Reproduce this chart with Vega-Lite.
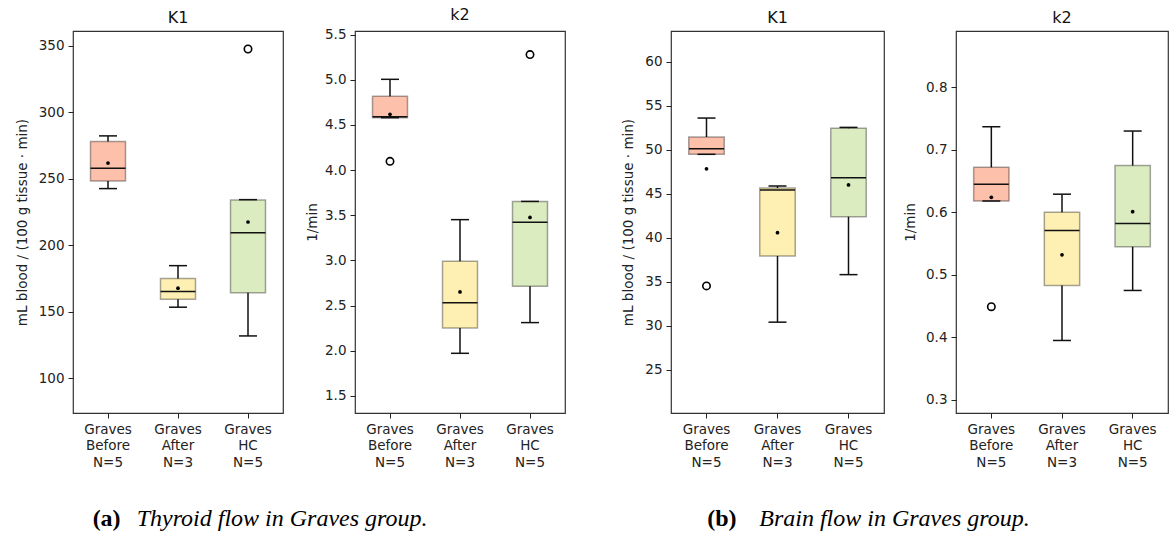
{
  "$schema": "https://vega.github.io/schema/vega-lite/v6.json",
  "autosize": "pad",
  "padding": {"left": 14, "top": 6, "right": 0, "bottom": 0},
  "background": "white",
  "datasets": {
    "boxes": [
      {"panel": "thyK1", "group": "Graves Before N=5", "lo": 242.6, "q1": 248.3, "med": 257.9, "q3": 277.9, "hi": 282.2, "mean": 261.8},
      {"panel": "thyK1", "group": "Graves After N=3", "lo": 153.5, "q1": 159.4, "med": 165.2, "q3": 175.0, "hi": 184.7, "mean": 167.8},
      {"panel": "thyK1", "group": "Graves HC N=5", "lo": 131.9, "q1": 164.4, "med": 209.4, "q3": 234.1, "hi": 234.3, "mean": 217.5},
      {"panel": "thyk2", "group": "Graves Before N=5", "lo": 4.58, "q1": 4.58, "med": 4.59, "q3": 4.817, "hi": 5.005, "mean": 4.618},
      {"panel": "thyk2", "group": "Graves After N=3", "lo": 1.971, "q1": 2.251, "med": 2.532, "q3": 2.991, "hi": 3.451, "mean": 2.651},
      {"panel": "thyk2", "group": "Graves HC N=5", "lo": 2.311, "q1": 2.713, "med": 3.421, "q3": 3.651, "hi": 3.653, "mean": 3.475},
      {"panel": "brK1", "group": "Graves Before N=5", "lo": 49.49, "q1": 49.49, "med": 50.13, "q3": 51.45, "hi": 53.61, "mean": 47.84},
      {"panel": "brK1", "group": "Graves After N=3", "lo": 30.42, "q1": 37.93, "med": 45.44, "q3": 45.67, "hi": 45.89, "mean": 40.58},
      {"panel": "brK1", "group": "Graves HC N=5", "lo": 35.82, "q1": 42.41, "med": 46.83, "q3": 52.44, "hi": 52.55, "mean": 46.01},
      {"panel": "brk2", "group": "Graves Before N=5", "lo": 0.618, "q1": 0.618, "med": 0.645, "q3": 0.672, "hi": 0.737, "mean": 0.624},
      {"panel": "brk2", "group": "Graves After N=3", "lo": 0.395, "q1": 0.483, "med": 0.571, "q3": 0.600, "hi": 0.629, "mean": 0.532},
      {"panel": "brk2", "group": "Graves HC N=5", "lo": 0.475, "q1": 0.545, "med": 0.582, "q3": 0.675, "hi": 0.730, "mean": 0.601}
    ],
    "outliers": [
      {"panel": "thyK1", "group": "Graves HC N=5", "value": 347.5},
      {"panel": "thyk2", "group": "Graves Before N=5", "value": 4.097},
      {"panel": "thyk2", "group": "Graves HC N=5", "value": 5.279},
      {"panel": "brK1", "group": "Graves Before N=5", "value": 34.54},
      {"panel": "brk2", "group": "Graves Before N=5", "value": 0.449}
    ]
  },
  "spacing": 55,
  "hconcat": [
    {
      "title": {"text": "(a)", "orient": "bottom", "anchor": "start", "font": "Liberation Serif", "fontSize": 24, "fontWeight": "bold", "fontStyle": "normal", "color": "#000", "dx": 78, "dy": -24, "offset": 0},
      "vconcat": [
        {
          "title": {"text": "Thyroid flow in Graves group.", "orient": "bottom", "anchor": "start", "font": "Liberation Serif", "fontSize": 24, "fontWeight": "normal", "fontStyle": "italic", "color": "#000", "dx": 122, "offset": 38},
          "bounds": "flush",
          "spacing": 72,
          "hconcat": [
            {
              "width": 210, "height": 382,
              "title": "K1",
              "encoding": {"x": {"field": "group", "type": "nominal", "sort": ["Graves Before N=5", "Graves After N=3", "Graves HC N=5"], "scale": {"paddingInner": 0, "paddingOuter": 0}, "axis": {"title": null, "labelAngle": 0, "labelExpr": "split(datum.label, ' ')"}}},
              "layer": [
                {"data": {"name": "boxes"}, "transform": [{"filter": "datum.panel === 'thyK1'"}], "mark": {"type": "rule", "color": "#111", "strokeWidth": 1.5}, "encoding": {"y": {"field": "lo", "type": "quantitative", "scale": {"domain": [74, 361], "nice": false, "zero": false}, "axis": {"title": "mL blood / (100 g tissue · min)", "values": [100, 150, 200, 250, 300, 350], "titlePadding": 9}}, "y2": {"field": "hi"}}},
                {"data": {"name": "boxes"}, "transform": [{"filter": "datum.panel === 'thyK1'"}], "mark": {"type": "bar", "width": {"band": 0.5}, "stroke": "#000", "strokeOpacity": 0.35, "strokeWidth": 1.5, "opacity": 1}, "encoding": {"y": {"field": "q1", "type": "quantitative"}, "y2": {"field": "q3"}, "color": {"field": "group", "type": "nominal", "scale": {"domain": ["Graves Before N=5", "Graves After N=3", "Graves HC N=5"], "range": ["#fdc0ab", "#fef0b2", "#dcecc1"]}, "legend": null}}},
                {"data": {"name": "boxes"}, "transform": [{"filter": "datum.panel === 'thyK1'"}], "mark": {"type": "tick", "color": "#111", "thickness": 1.5, "size": 18, "opacity": 1}, "encoding": {"y": {"field": "lo", "type": "quantitative"}}},
                {"data": {"name": "boxes"}, "transform": [{"filter": "datum.panel === 'thyK1'"}], "mark": {"type": "tick", "color": "#111", "thickness": 1.5, "size": 18, "opacity": 1}, "encoding": {"y": {"field": "hi", "type": "quantitative"}}},
                {"data": {"name": "boxes"}, "transform": [{"filter": "datum.panel === 'thyK1'"}], "mark": {"type": "tick", "color": "#111", "thickness": 1.5, "size": 35, "opacity": 1}, "encoding": {"y": {"field": "med", "type": "quantitative"}}},
                {"data": {"name": "boxes"}, "transform": [{"filter": "datum.panel === 'thyK1'"}], "mark": {"type": "point", "shape": "circle", "filled": true, "color": "#000", "size": 14, "opacity": 1}, "encoding": {"y": {"field": "mean", "type": "quantitative"}}},
                {"data": {"name": "outliers"}, "transform": [{"filter": "datum.panel === 'thyK1'"}], "mark": {"type": "point", "shape": "circle", "filled": false, "color": "#000", "size": 55, "strokeWidth": 1.6, "opacity": 1}, "encoding": {"y": {"field": "value", "type": "quantitative"}}}
              ]
            },
            {
              "width": 210, "height": 382,
              "title": "k2",
              "encoding": {"x": {"field": "group", "type": "nominal", "sort": ["Graves Before N=5", "Graves After N=3", "Graves HC N=5"], "scale": {"paddingInner": 0, "paddingOuter": 0}, "axis": {"title": null, "labelAngle": 0, "labelExpr": "split(datum.label, ' ')"}}},
              "layer": [
                {"data": {"name": "boxes"}, "transform": [{"filter": "datum.panel === 'thyk2'"}], "mark": {"type": "rule", "color": "#111", "strokeWidth": 1.5}, "encoding": {"y": {"field": "lo", "type": "quantitative", "scale": {"domain": [1.31, 5.54], "nice": false, "zero": false}, "axis": {"title": "1/min", "values": [1.5, 2.0, 2.5, 3.0, 3.5, 4.0, 4.5, 5.0, 5.5], "format": ".1f", "titlePadding": 5}}, "y2": {"field": "hi"}}},
                {"data": {"name": "boxes"}, "transform": [{"filter": "datum.panel === 'thyk2'"}], "mark": {"type": "bar", "width": {"band": 0.5}, "stroke": "#000", "strokeOpacity": 0.35, "strokeWidth": 1.5, "opacity": 1}, "encoding": {"y": {"field": "q1", "type": "quantitative"}, "y2": {"field": "q3"}, "color": {"field": "group", "type": "nominal", "scale": {"domain": ["Graves Before N=5", "Graves After N=3", "Graves HC N=5"], "range": ["#fdc0ab", "#fef0b2", "#dcecc1"]}, "legend": null}}},
                {"data": {"name": "boxes"}, "transform": [{"filter": "datum.panel === 'thyk2'"}], "mark": {"type": "tick", "color": "#111", "thickness": 1.5, "size": 18, "opacity": 1}, "encoding": {"y": {"field": "lo", "type": "quantitative"}}},
                {"data": {"name": "boxes"}, "transform": [{"filter": "datum.panel === 'thyk2'"}], "mark": {"type": "tick", "color": "#111", "thickness": 1.5, "size": 18, "opacity": 1}, "encoding": {"y": {"field": "hi", "type": "quantitative"}}},
                {"data": {"name": "boxes"}, "transform": [{"filter": "datum.panel === 'thyk2'"}], "mark": {"type": "tick", "color": "#111", "thickness": 1.5, "size": 35, "opacity": 1}, "encoding": {"y": {"field": "med", "type": "quantitative"}}},
                {"data": {"name": "boxes"}, "transform": [{"filter": "datum.panel === 'thyk2'"}], "mark": {"type": "point", "shape": "circle", "filled": true, "color": "#000", "size": 14, "opacity": 1}, "encoding": {"y": {"field": "mean", "type": "quantitative"}}},
                {"data": {"name": "outliers"}, "transform": [{"filter": "datum.panel === 'thyk2'"}], "mark": {"type": "point", "shape": "circle", "filled": false, "color": "#000", "size": 55, "strokeWidth": 1.6, "opacity": 1}, "encoding": {"y": {"field": "value", "type": "quantitative"}}}
              ]
            }
          ]
        }
      ]
    },
    {
      "title": {"text": "(b)", "orient": "bottom", "anchor": "start", "font": "Liberation Serif", "fontSize": 24, "fontWeight": "bold", "fontStyle": "normal", "color": "#000", "dx": 86, "dy": -24, "offset": 0},
      "vconcat": [
        {
          "title": {"text": "Brain flow in Graves group.", "orient": "bottom", "anchor": "start", "font": "Liberation Serif", "fontSize": 24, "fontWeight": "normal", "fontStyle": "italic", "color": "#000", "dx": 138, "offset": 38},
          "bounds": "flush",
          "spacing": 72,
          "hconcat": [
            {
              "width": 213, "height": 382,
              "title": "K1",
              "encoding": {"x": {"field": "group", "type": "nominal", "sort": ["Graves Before N=5", "Graves After N=3", "Graves HC N=5"], "scale": {"paddingInner": 0, "paddingOuter": 0}, "axis": {"title": null, "labelAngle": 0, "labelExpr": "split(datum.label, ' ')"}}},
              "layer": [
                {"data": {"name": "boxes"}, "transform": [{"filter": "datum.panel === 'brK1'"}], "mark": {"type": "rule", "color": "#111", "strokeWidth": 1.5}, "encoding": {"y": {"field": "lo", "type": "quantitative", "scale": {"domain": [20.1, 63.5], "nice": false, "zero": false}, "axis": {"title": "mL blood / (100 g tissue · min)", "values": [25, 30, 35, 40, 45, 50, 55, 60], "titlePadding": 9}}, "y2": {"field": "hi"}}},
                {"data": {"name": "boxes"}, "transform": [{"filter": "datum.panel === 'brK1'"}], "mark": {"type": "bar", "width": {"band": 0.5}, "stroke": "#000", "strokeOpacity": 0.35, "strokeWidth": 1.5, "opacity": 1}, "encoding": {"y": {"field": "q1", "type": "quantitative"}, "y2": {"field": "q3"}, "color": {"field": "group", "type": "nominal", "scale": {"domain": ["Graves Before N=5", "Graves After N=3", "Graves HC N=5"], "range": ["#fdc0ab", "#fef0b2", "#dcecc1"]}, "legend": null}}},
                {"data": {"name": "boxes"}, "transform": [{"filter": "datum.panel === 'brK1'"}], "mark": {"type": "tick", "color": "#111", "thickness": 1.5, "size": 18, "opacity": 1}, "encoding": {"y": {"field": "lo", "type": "quantitative"}}},
                {"data": {"name": "boxes"}, "transform": [{"filter": "datum.panel === 'brK1'"}], "mark": {"type": "tick", "color": "#111", "thickness": 1.5, "size": 18, "opacity": 1}, "encoding": {"y": {"field": "hi", "type": "quantitative"}}},
                {"data": {"name": "boxes"}, "transform": [{"filter": "datum.panel === 'brK1'"}], "mark": {"type": "tick", "color": "#111", "thickness": 1.5, "size": 35, "opacity": 1}, "encoding": {"y": {"field": "med", "type": "quantitative"}}},
                {"data": {"name": "boxes"}, "transform": [{"filter": "datum.panel === 'brK1'"}], "mark": {"type": "point", "shape": "circle", "filled": true, "color": "#000", "size": 14, "opacity": 1}, "encoding": {"y": {"field": "mean", "type": "quantitative"}}},
                {"data": {"name": "outliers"}, "transform": [{"filter": "datum.panel === 'brK1'"}], "mark": {"type": "point", "shape": "circle", "filled": false, "color": "#000", "size": 55, "strokeWidth": 1.6, "opacity": 1}, "encoding": {"y": {"field": "value", "type": "quantitative"}}}
              ]
            },
            {
              "width": 212, "height": 382,
              "title": "k2",
              "encoding": {"x": {"field": "group", "type": "nominal", "sort": ["Graves Before N=5", "Graves After N=3", "Graves HC N=5"], "scale": {"paddingInner": 0, "paddingOuter": 0}, "axis": {"title": null, "labelAngle": 0, "labelExpr": "split(datum.label, ' ')"}}},
              "layer": [
                {"data": {"name": "boxes"}, "transform": [{"filter": "datum.panel === 'brk2'"}], "mark": {"type": "rule", "color": "#111", "strokeWidth": 1.5}, "encoding": {"y": {"field": "lo", "type": "quantitative", "scale": {"domain": [0.279, 0.89], "nice": false, "zero": false}, "axis": {"title": "1/min", "values": [0.3, 0.4, 0.5, 0.6, 0.7, 0.8], "format": ".1f", "titlePadding": 8}}, "y2": {"field": "hi"}}},
                {"data": {"name": "boxes"}, "transform": [{"filter": "datum.panel === 'brk2'"}], "mark": {"type": "bar", "width": {"band": 0.5}, "stroke": "#000", "strokeOpacity": 0.35, "strokeWidth": 1.5, "opacity": 1}, "encoding": {"y": {"field": "q1", "type": "quantitative"}, "y2": {"field": "q3"}, "color": {"field": "group", "type": "nominal", "scale": {"domain": ["Graves Before N=5", "Graves After N=3", "Graves HC N=5"], "range": ["#fdc0ab", "#fef0b2", "#dcecc1"]}, "legend": null}}},
                {"data": {"name": "boxes"}, "transform": [{"filter": "datum.panel === 'brk2'"}], "mark": {"type": "tick", "color": "#111", "thickness": 1.5, "size": 18, "opacity": 1}, "encoding": {"y": {"field": "lo", "type": "quantitative"}}},
                {"data": {"name": "boxes"}, "transform": [{"filter": "datum.panel === 'brk2'"}], "mark": {"type": "tick", "color": "#111", "thickness": 1.5, "size": 18, "opacity": 1}, "encoding": {"y": {"field": "hi", "type": "quantitative"}}},
                {"data": {"name": "boxes"}, "transform": [{"filter": "datum.panel === 'brk2'"}], "mark": {"type": "tick", "color": "#111", "thickness": 1.5, "size": 35, "opacity": 1}, "encoding": {"y": {"field": "med", "type": "quantitative"}}},
                {"data": {"name": "boxes"}, "transform": [{"filter": "datum.panel === 'brk2'"}], "mark": {"type": "point", "shape": "circle", "filled": true, "color": "#000", "size": 14, "opacity": 1}, "encoding": {"y": {"field": "mean", "type": "quantitative"}}},
                {"data": {"name": "outliers"}, "transform": [{"filter": "datum.panel === 'brk2'"}], "mark": {"type": "point", "shape": "circle", "filled": false, "color": "#000", "size": 55, "strokeWidth": 1.6, "opacity": 1}, "encoding": {"y": {"field": "value", "type": "quantitative"}}}
              ]
            }
          ]
        }
      ]
    }
  ],
  "config": {
    "view": {"stroke": "#333", "strokeWidth": 1.2},
    "font": "DejaVu Sans",
    "axis": {"labelFont": "DejaVu Sans", "labelFontSize": 13.5, "labelColor": "#222", "titleFont": "DejaVu Sans", "titleFontSize": 13.5, "titleFontWeight": "normal", "titleColor": "#222", "tickColor": "#222", "tickSize": 5, "tickWidth": 1, "domain": false, "grid": false, "labelPadding": 4},
    "axisX": {"labelLineHeight": 16.5, "labelPadding": 4},
    "title": {"font": "DejaVu Sans", "fontSize": 16, "fontWeight": "normal", "color": "#111", "offset": 5}
  }
}
